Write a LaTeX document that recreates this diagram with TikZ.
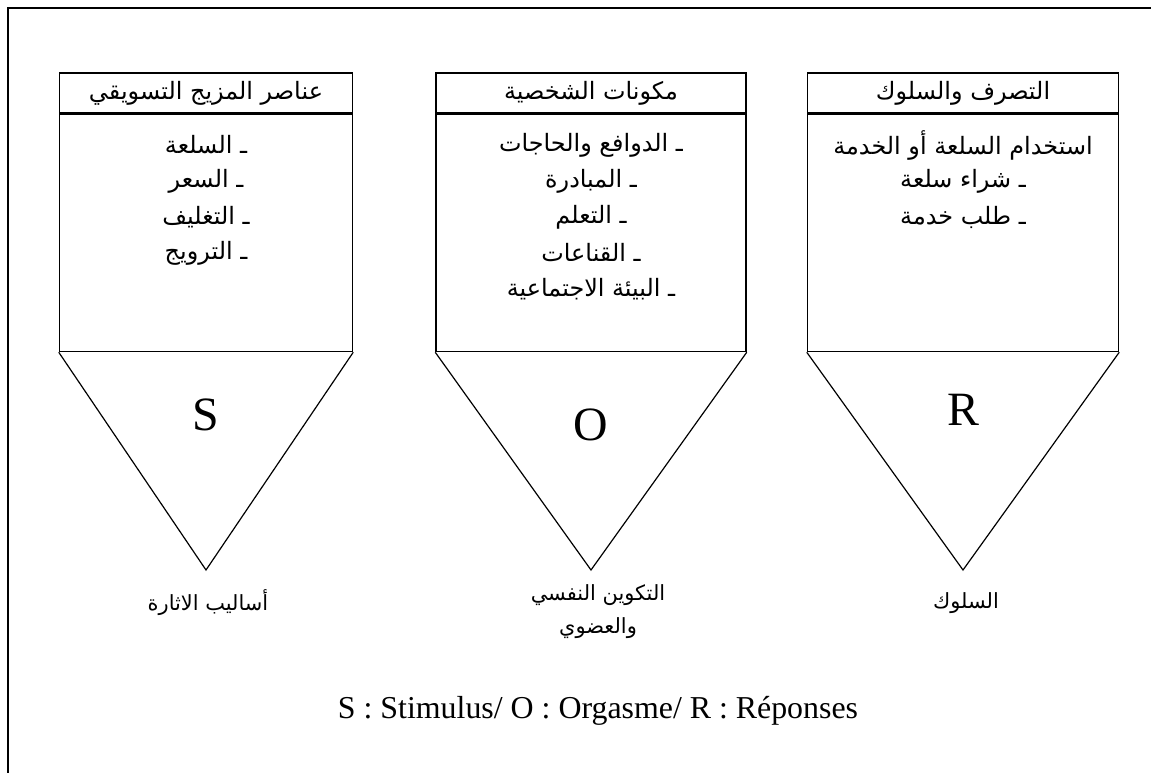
\documentclass[tikz,border=0pt]{standalone}
\usepackage{fontspec}
\setmainfont{Liberation Serif}
\newfontfamily\arabicfont[Script=Arabic]{DejaVu Sans}
\TeXXeTstate=1
\newcommand{\ar}[1]{{\arabicfont\beginR #1\endR}}
\tikzset{
  head/.style={draw, line width=1.5pt, minimum height=40bp, inner sep=0pt, font=\fontsize{24}{28}\selectfont},
  body/.style={draw, line width=1.5pt, minimum height=237bp, inner sep=0pt},
  item/.style={inner sep=0pt, font=\fontsize{24}{28}\selectfont},
  letter/.style={inner sep=0pt, font=\fontsize{48}{52}\selectfont},
  label/.style={inner sep=0pt, font=\fontsize{21}{24}\selectfont},
  tri/.style={line width=1.2pt, line join=miter},
}
\begin{document}
\begin{tikzpicture}[x=1bp,y=-1bp]
\useasboundingbox (0,0) rectangle (1151,773);
\clip (0,0) rectangle (1151,773);
\node[draw, line width=1.8pt, minimum width=1200bp, minimum height=820bp, anchor=north west, inner sep=0pt] (frame) at (7,7) {};
% column 1
\node[head, minimum width=293bp] (h1) at (206,93) {\ar{عناصر المزيج التسويقي}};
\node[body, minimum width=293bp, anchor=north] (b1) at (h1.south) {};
\coordinate (a1) at (206,570);
\draw[tri] (b1.south west) -- (a1) -- (b1.south east);
\node[item] (i11) at (206,145) {\ar{ـ السلعة}};
\node[item] (i12) at (206,181) {\ar{ـ السعر}};
\node[item] (i13) at (206,217) {\ar{ـ التغليف}};
\node[item] (i14) at (206,253) {\ar{ـ الترويج}};
\node[letter] (s) at (206,415) {S};
\node[label] (l1) at (208,603) {\ar{أساليب الاثارة}};
% column 2
\node[head, minimum width=310bp] (h2) at (591,93) {\ar{مكونات الشخصية}};
\node[body, minimum width=310bp, anchor=north] (b2) at (h2.south) {};
\coordinate (a2) at (591,570);
\draw[tri] (b2.south west) -- (a2) -- (b2.south east);
\node[item] (i21) at (591,145) {\ar{ـ الدوافع والحاجات}};
\node[item] (i22) at (591,181) {\ar{ـ المبادرة}};
\node[item] (i23) at (591,217) {\ar{ـ التعلم}};
\node[item] (i24) at (591,253) {\ar{ـ القناعات}};
\node[item] (i25) at (591,289) {\ar{ـ البيئة الاجتماعية}};
\node[letter] (o) at (591,425) {O};
\node[label] (l2a) at (598,595) {\ar{التكوين النفسي}};
\node[label] (l2b) at (598,628) {\ar{والعضوي}};
% column 3
\node[head, minimum width=311bp] (h3) at (963,93) {\ar{التصرف والسلوك}};
\node[body, minimum width=311bp, anchor=north] (b3) at (h3.south) {};
\coordinate (a3) at (963,570);
\draw[tri] (b3.south west) -- (a3) -- (b3.south east);
\node[item] (i31) at (963,145) {\ar{استخدام السلعة أو الخدمة}};
\node[item] (i32) at (963,181) {\ar{ـ شراء سلعة}};
\node[item] (i33) at (963,217) {\ar{ـ طلب خدمة}};
\node[letter] (r) at (963,410) {R};
\node[label] (l3) at (966,603) {\ar{السلوك}};
% legend
\node[inner sep=0pt, font=\fontsize{32}{36}\selectfont] (leg) at (598,711) {S : Stimulus/ O : Orgasme/ R : Réponses};
\end{tikzpicture}
\end{document}
